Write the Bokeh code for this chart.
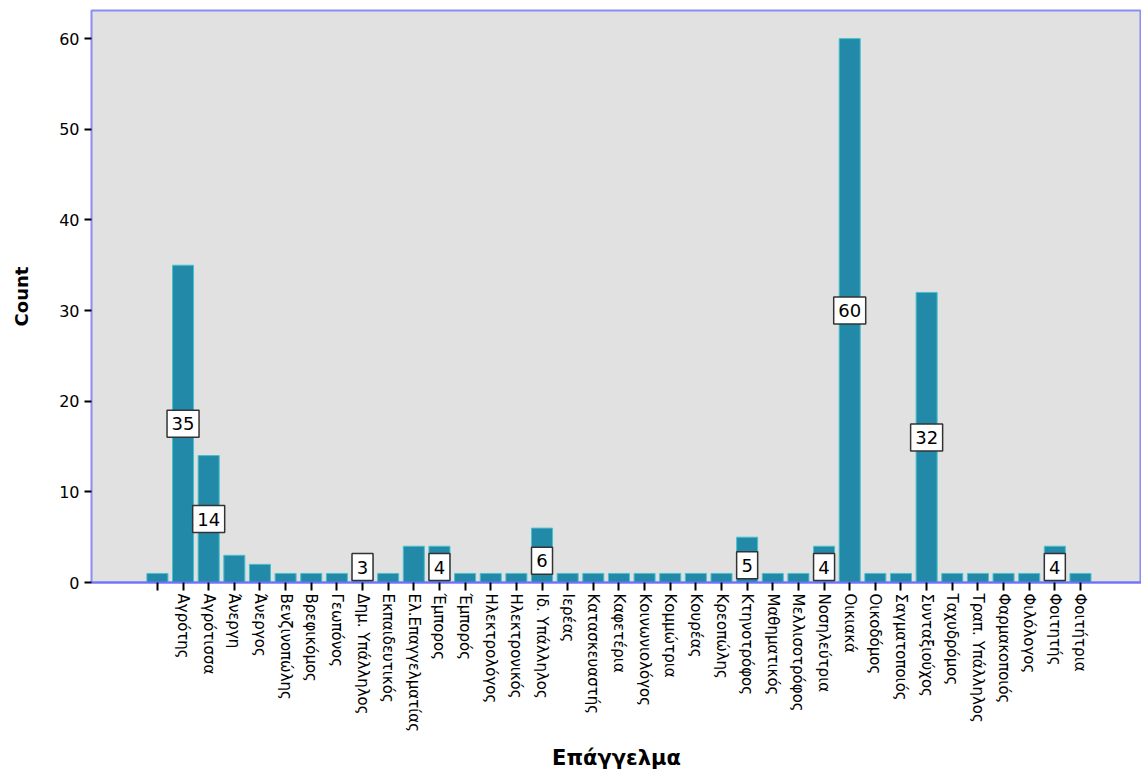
import math
from bokeh.plotting import figure
from bokeh.models import ColumnDataSource, Range1d, FixedTicker, SingleIntervalTicker
from bokeh.core.properties import value
from bokeh.embed import file_html
from bokeh.resources import INLINE

categories = ["", "Αγρότης", "Αγρότισσα", "Άνεργη", "Άνεργος", "Βενζινοπώλης", "Βρεφικόμος",
              "Γεωπόνος", "Δημ. Υπάλληλος", "Εκπαιδευτικός", "Ελ.Επαγγελματίας", "Έμπορος",
              "Έμπορός", "Ηλεκτρολόγος", "Ηλεκτρονικός", "Ιδ. Υπάλληλος", "Ιερέας",
              "Κατασκευαστής", "Καφετέρια", "Κοινωνιολόγος", "Κομμώτρια", "Κουρέας",
              "Κρεοπώλης", "Κτηνοτρόφος", "Μαθηματικός", "Μελλισοτρόφος", "Νοσηλεύτρια",
              "Οικιακά", "Οικοδόμος", "Σαγματοποιός", "Συνταξιούχος", "Ταχυδρόμος",
              "Τραπ. Υπάλληλος", "Φαρμακοποιός", "Φιλόλογος", "Φοιτητής", "Φοιτήτρια"]
counts = [1, 35, 14, 3, 2, 1, 1, 1, 3, 1, 4, 4, 1, 1, 1, 6, 1, 1, 1, 1, 1, 1, 1, 5, 1, 1, 4,
          60, 1, 1, 32, 1, 1, 1, 1, 4, 1]
labelled = [False, True, True, False, False, False, False, False, True, False, False, True,
            False, False, False, True, False, False, False, False, False, False, False, True,
            False, False, True, True, False, False, True, False, False, False, False, True, False]

xs = list(range(len(categories)))
src = ColumnDataSource(dict(x=xs, count=counts))

lx, ly, lt, lw = [], [], [], []
for i, (c, show) in enumerate(zip(counts, labelled)):
    if show:
        lx.append(i)
        ly.append(c / 2 if c >= 10 else max(c / 2 - 0.6, 1.7))
        lt.append(str(c))
        lw.append(10 + 11 * len(str(c)))
lsrc = ColumnDataSource(dict(x=lx, y=ly, t=lt, w=lw))

p = figure(width=1141, height=774, output_backend="svg", toolbar_location=None,
           x_range=Range1d(-2.57, 38.38), y_range=Range1d(0, 63.1),
           min_border_left=91, min_border_top=10, min_border_right=0, min_border_bottom=192)
p.background_fill_color = "#e1e1e1"
p.border_fill_color = "white"
p.outline_line_color = "#8c8cf5"
p.outline_line_width = 2
p.grid.visible = False

p.vbar(x="x", top="count", width=0.82, bottom=0, source=src,
       fill_color="#2389a8", line_color="#45c3cc", line_width=1)

p.rect(x="x", y="y", width="w", height=27, width_units="screen", height_units="screen",
       source=lsrc, fill_color="white", line_color="#333333", line_width=1.5)
p.text(x="x", y="y", text="t", source=lsrc, text_align="center", text_baseline="middle",
       text_font=value("DejaVu Sans"), text_font_size="18px", text_color="black")

xa = p.xaxis[0]
xa.ticker = FixedTicker(ticks=xs)
xa.major_label_overrides = {i: name for i, name in zip(xs, categories)}
xa.major_label_orientation = -math.pi / 2
xa.major_label_text_font = "DejaVu Sans"
xa.major_label_text_font_size = "15px"
xa.major_label_text_color = "black"
xa.major_label_standoff = 3
xa.major_tick_out = 8
xa.major_tick_in = 0
xa.major_tick_line_color = "black"
xa.major_tick_line_width = 2
xa.minor_tick_line_color = None
xa.axis_line_color = "#7070ff"
xa.axis_line_width = 2
xa.axis_label = "Επάγγελμα"
xa.axis_label_text_font = "DejaVu Sans"
xa.axis_label_text_font_style = "bold"
xa.axis_label_text_font_size = "21px"
xa.axis_label_text_color = "black"
xa.axis_label_standoff = 11

ya = p.yaxis[0]
ya.ticker = SingleIntervalTicker(interval=10)
ya.major_label_text_font = "DejaVu Sans"
ya.major_label_text_font_size = "16px"
ya.major_label_text_color = "black"
ya.major_tick_out = 7
ya.major_tick_in = 0
ya.major_tick_line_color = "black"
ya.major_tick_line_width = 2
ya.minor_tick_line_color = None
ya.axis_line_color = None
ya.axis_label = "Count"
ya.axis_label_text_font = "DejaVu Sans"
ya.axis_label_text_font_style = "bold"
ya.axis_label_text_font_size = "18px"
ya.axis_label_text_color = "black"
ya.axis_label_standoff = 24

open("out.html", "w").write(file_html(p, INLINE))
